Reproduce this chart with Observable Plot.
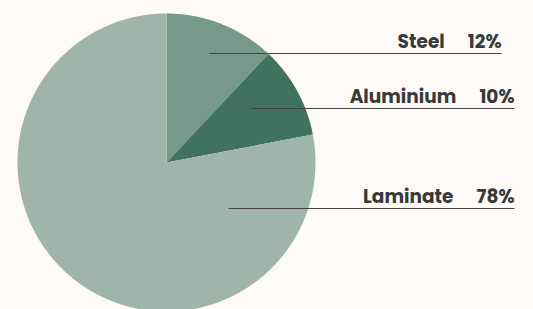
<!DOCTYPE html>
<html><head><meta charset="utf-8">
<script src="https://cdn.jsdelivr.net/npm/d3@7"></script>
<script src="https://cdn.jsdelivr.net/npm/@observablehq/plot@0.6"></script>
<style>html,body{margin:0;padding:0;background:#fdfaf7;overflow:hidden}</style>
</head><body><div id="chart"></div>
<script>
// ---- data ----
const categories = ["Steel", "Aluminium", "Laminate"];
const shares = [12, 10, 78];
const valueLabels = ["12%", "10%", "78%"];
const colors = ["#77998b", "#40725f", "#9fb4aa"];

// ---- layout (pixels) ----
const W = 533, H = 309, cx = 166, cy = 162, R = 149;
const labelRowY = [53, 108, 208];
const labelStartX = [209, 251, 228];
const labelEndX = [501, 514, 514];
const ux = px => (px - cx) / R;
const uy = py => (cy - py) / R;

// ---- slices from d3.pie ----
const arcs = d3.pie().sort(null).value(d => d)(shares);
const pts = [];
arcs.forEach((a, i) => {
  const cat = categories[i];
  pts.push({cat, x: 0, y: 0});
  const n = Math.max(2, Math.ceil((a.endAngle - a.startAngle) / 0.005));
  for (let j = 0; j <= n; j++) {
    const t = a.startAngle + (a.endAngle - a.startAngle) * j / n;
    pts.push({cat, x: Math.sin(t), y: Math.cos(t)});
  }
});

const labels = categories.map((c, i) => ({
  cat: c,
  text: c + "\u2003\u2005" + valueLabels[i],
  x1: ux(labelStartX[i]), x2: ux(labelEndX[i]), y: uy(labelRowY[i])
}));

const chart = Plot.plot({
  width: W, height: H,
  margin: 0,
  style: {background: "#fdfaf7", overflow: "visible"},
  x: {domain: [ux(0), ux(W)], axis: null},
  y: {domain: [uy(H), uy(0)], axis: null},
  color: {domain: categories, range: colors},
  marks: [
    Plot.line(pts, {x: "x", y: "y", z: "cat", fill: "cat", stroke: "none", curve: "linear"}),
    Plot.link(labels, {x1: "x1", x2: "x2", y1: "y", y2: "y", stroke: "#444", strokeWidth: 1}),
    Plot.text(labels, {x: "x2", y: "y", text: "text", textAnchor: "end", lineAnchor: "bottom",
      dy: -6, fontSize: 18.5, fontWeight: 700, fill: "#3a3a3a",
      fontFamily: "Poppins, Inter, 'Open Sans', sans-serif"})
  ]
});
document.getElementById("chart").appendChild(chart);
</script></body></html>
